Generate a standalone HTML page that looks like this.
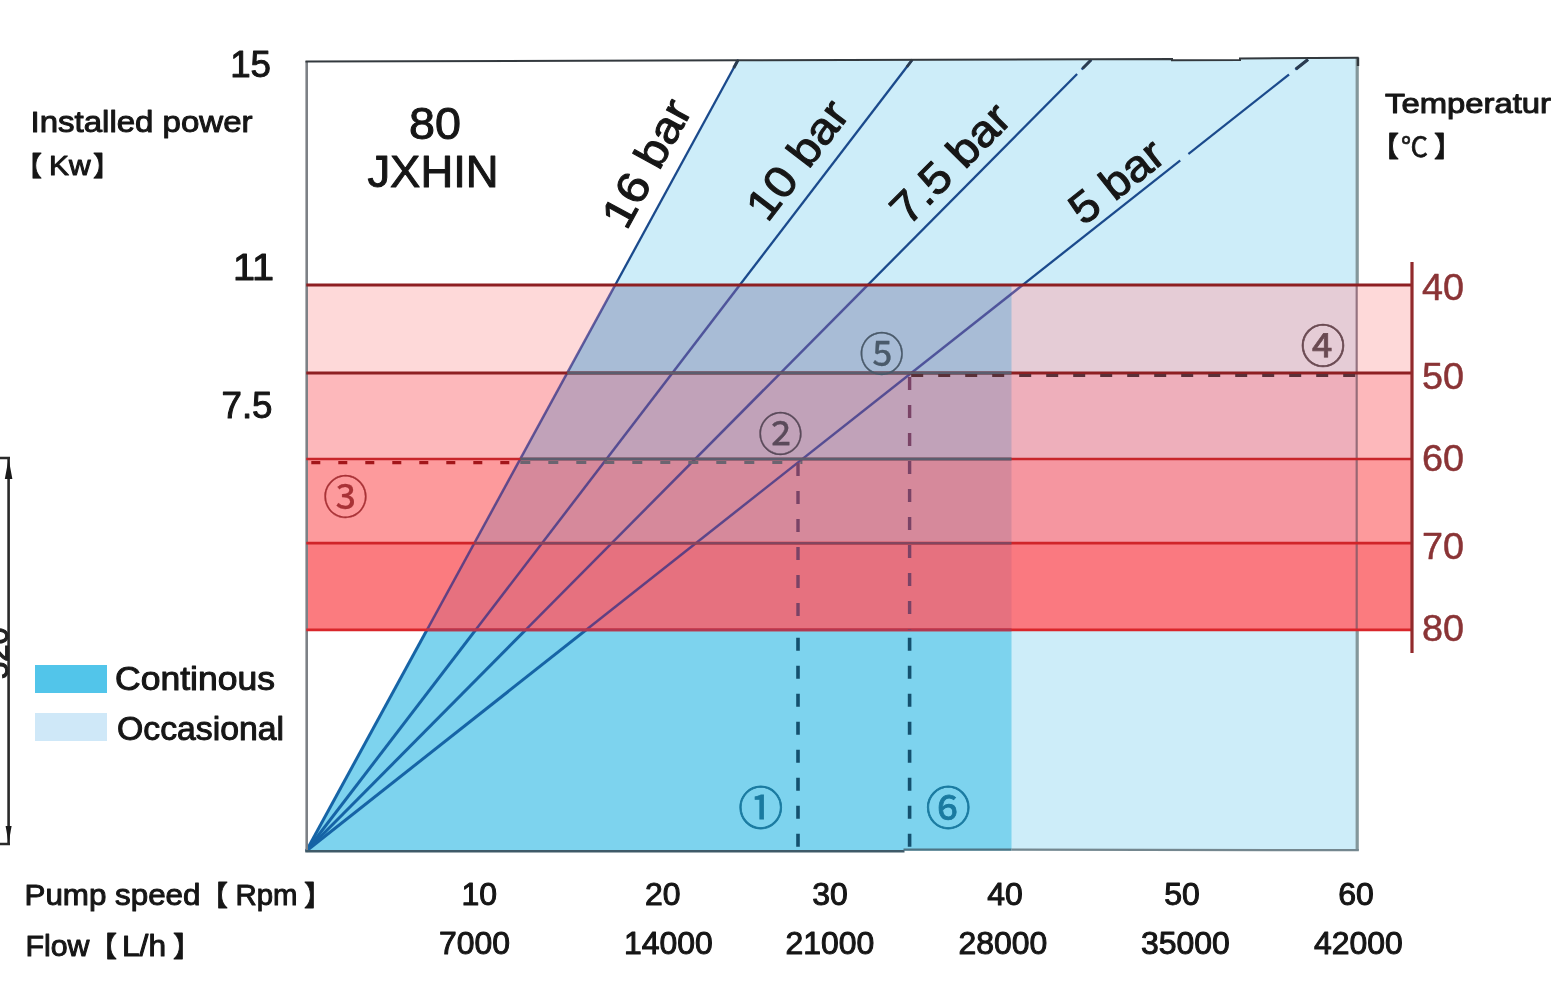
<!DOCTYPE html>
<html lang="en"><head><meta charset="utf-8"><title>Pump performance chart</title>
<style>html,body{margin:0;padding:0;background:#fff;overflow:hidden}svg{display:block;filter:blur(0.45px)}</style></head>
<body>
<svg width="1554" height="1000" viewBox="0 0 1554 1000">
<rect width="1554" height="1000" fill="#ffffff"/>
<polygon points="306.3,851.0 738.3,60.4 1172,59.2 1172,60.2 1240,60 1240,58.3 1358.0,57.8 1358.0,851.0" fill="#cdedf9"/>
<polygon points="306.3,851.0 615.2,285.0 1011.5,285.0 1011.5,851.0" fill="#7dd3ee"/>
<rect x="306.3" y="285.0" width="1105.7" height="88.0" fill="rgb(254,217,217)"/>
<rect x="1010.5" y="285.0" width="346.5" height="88.0" fill="rgb(229,204,214)"/>
<polygon points="615.2,285.0 1011.5,285.0 1011.5,373.0 567.2,373.0" fill="rgb(168,188,214)"/>
<rect x="306.3" y="373.0" width="1105.7" height="86.0" fill="rgb(253,184,187)"/>
<rect x="1010.5" y="373.0" width="346.5" height="86.0" fill="rgb(238,175,187)"/>
<polygon points="567.2,373.0 1011.5,373.0 1011.5,459.0 520.3,459.0" fill="rgb(193,162,185)"/>
<rect x="306.3" y="459.0" width="1105.7" height="84.2" fill="rgb(253,154,156)"/>
<rect x="1010.5" y="459.0" width="346.5" height="84.2" fill="rgb(245,150,160)"/>
<polygon points="520.3,459.0 1011.5,459.0 1011.5,543.2 474.3,543.2" fill="rgb(214,137,155)"/>
<rect x="306.3" y="543.2" width="1105.7" height="86.6" fill="rgb(251,123,127)"/>
<rect x="1010.5" y="543.2" width="346.5" height="86.6" fill="rgb(250,121,128)"/>
<polygon points="474.3,543.2 1011.5,543.2 1011.5,629.8 427.0,629.8" fill="rgb(230,113,127)"/>
<clipPath id="cb"><rect x="306.3" y="285.0" width="1050.7" height="344.8"/></clipPath>
<clipPath id="ca"><path d="M0,0H1554V285.0H0Z M0,629.8H1554V1000H0Z"/></clipPath>
<clipPath id="cu"><rect x="0" y="0" width="1554" height="285.0"/></clipPath>
<clipPath id="cl"><rect x="0" y="629.8" width="1554" height="370.20000000000005"/></clipPath>
<g clip-path="url(#cu)">
<line x1="306.3" y1="851.0" x2="738.3" y2="59.5" stroke="#1b4a8c" stroke-width="2.3"/>
<line x1="306.3" y1="851.0" x2="912.5" y2="59.5" stroke="#1b4a8c" stroke-width="2.3"/>
<line x1="306.3" y1="851.0" x2="1091.5" y2="59.5" stroke="#1b4a8c" stroke-width="2.3"/>
<line x1="306.3" y1="851.0" x2="1308.0" y2="59.5" stroke="#1b4a8c" stroke-width="2.3"/>
</g><g clip-path="url(#cl)">
<line x1="306.3" y1="851.0" x2="738.3" y2="59.5" stroke="#1664a6" stroke-width="3"/>
<line x1="306.3" y1="851.0" x2="912.5" y2="59.5" stroke="#1664a6" stroke-width="3"/>
<line x1="306.3" y1="851.0" x2="1091.5" y2="59.5" stroke="#1664a6" stroke-width="3"/>
<line x1="306.3" y1="851.0" x2="1308.0" y2="59.5" stroke="#1664a6" stroke-width="3"/>
</g><g clip-path="url(#cb)">
<line x1="306.3" y1="851.0" x2="738.3" y2="59.5" stroke="rgba(44,44,132,0.72)" stroke-width="2.5"/>
<line x1="306.3" y1="851.0" x2="912.5" y2="59.5" stroke="rgba(44,44,132,0.72)" stroke-width="2.5"/>
<line x1="306.3" y1="851.0" x2="1091.5" y2="59.5" stroke="rgba(44,44,132,0.72)" stroke-width="2.5"/>
<line x1="306.3" y1="851.0" x2="1308.0" y2="59.5" stroke="rgba(44,44,132,0.72)" stroke-width="2.5"/>
</g>
<line x1="1180.2" y1="160.5" x2="1188.4" y2="154.0" stroke="#cdedf9" stroke-width="4.5"/>
<line x1="1289.0" y1="74.5" x2="1295.3" y2="69.5" stroke="#cdedf9" stroke-width="4.5"/>
<line x1="1296.0" y1="69.0" x2="1308.0" y2="59.5" stroke="#2b3c50" stroke-width="3.2"/>
<line x1="1077.1" y1="74.0" x2="1081.6" y2="69.5" stroke="#cdedf9" stroke-width="4.5"/>
<line x1="1082.6" y1="68.5" x2="1091.0" y2="60.0" stroke="#2b3c50" stroke-width="3.0"/>
<line x1="906.8" y1="67.0" x2="912.1" y2="60.0" stroke="#2b3c50" stroke-width="2.8"/>
<line x1="733.7" y1="68.0" x2="737.8" y2="60.5" stroke="#2b3c50" stroke-width="3.0"/>
<line x1="306.7" y1="61" x2="306.7" y2="852.0" stroke="#7d8186" stroke-width="2.6"/>
<line x1="1357.2" y1="58" x2="1357.2" y2="285.0" stroke="#84979b" stroke-width="3.2"/>
<line x1="1357.2" y1="629.8" x2="1357.2" y2="851.5" stroke="#84979b" stroke-width="3.2"/>
<line x1="1356.7" y1="285.0" x2="1356.7" y2="629.8" stroke="rgba(120,85,100,0.75)" stroke-width="2.2"/>
<polyline points="305.5,61.5 738.3,60.3 1172,59.1 1172,60.3 1240,60.1 1240,58.4 1358.6,57.8" fill="none" stroke="#33393e" stroke-width="2"/>
<line x1="1358.0" y1="57.5" x2="1358.0" y2="66" stroke="#33393e" stroke-width="2.4"/>
<rect x="904" y="850.4" width="456.0" height="3" fill="#ffffff"/>
<line x1="305.3" y1="851.3" x2="904.5" y2="851.3" stroke="#3f5a68" stroke-width="2.6"/>
<line x1="903.5" y1="849.6" x2="1011.5" y2="849.6" stroke="#4d7484" stroke-width="2.2"/>
<line x1="1011.5" y1="849.6" x2="1358.8" y2="850.2" stroke="#74878f" stroke-width="2.2"/>
<line x1="306.3" y1="285.0" x2="1412.0" y2="285.0" stroke="#8e1f22" stroke-width="3"/>
<line x1="306.3" y1="373.0" x2="1412.0" y2="373.0" stroke="#8e1f22" stroke-width="3"/>
<line x1="306.3" y1="459.0" x2="1412.0" y2="459.0" stroke="#c8252a" stroke-width="2.6"/>
<line x1="306.3" y1="543.2" x2="1412.0" y2="543.2" stroke="#d02429" stroke-width="2.8"/>
<line x1="306.3" y1="629.8" x2="1412.0" y2="629.8" stroke="#d9262b" stroke-width="2.8"/>
<line x1="567.2" y1="373.0" x2="1011.5" y2="373.0" stroke="#5b5d6e" stroke-width="3.2"/>
<line x1="520.3" y1="459.0" x2="1011.5" y2="459.0" stroke="#5b5d6e" stroke-width="3.2"/>
<line x1="474.3" y1="543.2" x2="1011.5" y2="543.2" stroke="#82465f" stroke-width="2.6"/>
<line x1="427.0" y1="629.8" x2="1011.5" y2="629.8" stroke="#b23852" stroke-width="2.8"/>
<line x1="1412.0" y1="262" x2="1412.0" y2="653" stroke="#922a2c" stroke-width="3.2"/>
<line x1="306.3" y1="462.6" x2="520.3" y2="462.6" stroke="#a3161a" stroke-width="3.4" stroke-dasharray="9 18" stroke-dashoffset="-5"/>
<line x1="520.3" y1="462.4" x2="802.4" y2="462.4" stroke="#6b6470" stroke-width="3" stroke-dasharray="10 18"/>
<line x1="911.2" y1="375.6" x2="1357.0" y2="375.6" stroke="#5a3038" stroke-width="3" stroke-dasharray="12 15"/>
<line x1="798.0" y1="463.0" x2="798.0" y2="629.8" stroke="#7a4366" stroke-width="3.4" stroke-dasharray="13 15"/>
<line x1="798.0" y1="637.8" x2="798.0" y2="851.0" stroke="#14506e" stroke-width="3.6" stroke-dasharray="13 15"/>
<line x1="909.6" y1="377.0" x2="909.6" y2="629.8" stroke="#7a4366" stroke-width="3.4" stroke-dasharray="13 15"/>
<line x1="909.6" y1="637.8" x2="909.6" y2="851.0" stroke="#14506e" stroke-width="3.6" stroke-dasharray="13 15"/>
<path d="M0,458 H10 M8.6,458 V844 M0,844 H10" stroke="#2a2a2a" stroke-width="2.6" fill="none"/>
<polygon points="8.6,459 4.8,479 12.4,479" fill="#1a1a1a"/>
<polygon points="8.6,843 5.6,826 11.6,826" fill="#1a1a1a"/>
<rect x="35" y="665" width="72" height="28" fill="#52c5ea"/>
<rect x="35" y="713" width="72" height="28" fill="#cfe8f8"/>
<text x="271" y="77" font-size="36" font-family="'Liberation Sans','Noto Sans CJK SC',sans-serif" fill="#161616" text-anchor="end" textLength="40.8" lengthAdjust="spacingAndGlyphs" stroke="#161616" stroke-width="1.0" stroke-linejoin="round" >15</text>
<text x="274" y="279.5" font-size="36" font-family="'Liberation Sans','Noto Sans CJK SC',sans-serif" fill="#161616" text-anchor="end" textLength="41.1" lengthAdjust="spacingAndGlyphs" stroke="#161616" stroke-width="1.0" stroke-linejoin="round" >11</text>
<text x="272.5" y="417.5" font-size="36" font-family="'Liberation Sans','Noto Sans CJK SC',sans-serif" fill="#161616" text-anchor="end" textLength="51.0" lengthAdjust="spacingAndGlyphs" stroke="#161616" stroke-width="1.0" stroke-linejoin="round" >7.5</text>
<text x="30.5" y="131.6" font-size="30" font-family="'Liberation Sans','Noto Sans CJK SC',sans-serif" fill="#161616" text-anchor="start" textLength="222" lengthAdjust="spacingAndGlyphs" stroke="#161616" stroke-width="1.0" stroke-linejoin="round" >Installed power</text>
<text x="49" y="175" font-size="28.5" font-family="'Liberation Sans','Noto Sans CJK SC',sans-serif" fill="#161616" text-anchor="start" textLength="41.6" lengthAdjust="spacingAndGlyphs" stroke="#161616" stroke-width="1.0" stroke-linejoin="round" >Kw</text>
<text x="15" y="176" font-size="27" font-family="'Liberation Sans','Noto Sans CJK SC',sans-serif" fill="#161616" text-anchor="start" stroke="#161616" stroke-width="0.9" stroke-linejoin="round" >【</text>
<text x="93" y="176" font-size="27" font-family="'Liberation Sans','Noto Sans CJK SC',sans-serif" fill="#161616" text-anchor="start" stroke="#161616" stroke-width="0.9" stroke-linejoin="round" >】</text>
<text x="435" y="139" font-size="44" font-family="'Liberation Sans','Noto Sans CJK SC',sans-serif" fill="#161616" text-anchor="middle" textLength="51.9" lengthAdjust="spacingAndGlyphs" stroke="#161616" stroke-width="1.0" stroke-linejoin="round" >80</text>
<text x="433" y="187.3" font-size="44.5" font-family="'Liberation Sans','Noto Sans CJK SC',sans-serif" fill="#161616" text-anchor="middle" textLength="131.1" lengthAdjust="spacingAndGlyphs" stroke="#161616" stroke-width="1.0" stroke-linejoin="round" >JXHIN</text>
<text x="1385" y="113" font-size="28" font-family="'Liberation Sans','Noto Sans CJK SC',sans-serif" fill="#161616" text-anchor="start" textLength="166" lengthAdjust="spacingAndGlyphs" stroke="#161616" stroke-width="1.0" stroke-linejoin="round" >Temperatur</text>
<text x="1401" y="157" font-size="27" font-family="'Liberation Sans','Noto Sans CJK SC',sans-serif" fill="#161616" text-anchor="start" stroke="#161616" stroke-width="0.7" stroke-linejoin="round" >℃</text>
<text x="1371" y="157" font-size="28" font-family="'Liberation Sans','Noto Sans CJK SC',sans-serif" fill="#161616" text-anchor="start" stroke="#161616" stroke-width="0.9" stroke-linejoin="round" >【</text>
<text x="1434" y="157" font-size="28" font-family="'Liberation Sans','Noto Sans CJK SC',sans-serif" fill="#161616" text-anchor="start" stroke="#161616" stroke-width="0.9" stroke-linejoin="round" >】</text>
<text x="1422" y="300" font-size="36" font-family="'Liberation Sans','Noto Sans CJK SC',sans-serif" fill="#8a3436" text-anchor="start" textLength="42.0" lengthAdjust="spacingAndGlyphs" stroke="#8a3436" stroke-width="0.5" stroke-linejoin="round" >40</text>
<text x="1422" y="389" font-size="36" font-family="'Liberation Sans','Noto Sans CJK SC',sans-serif" fill="#8a3436" text-anchor="start" textLength="42.0" lengthAdjust="spacingAndGlyphs" stroke="#8a3436" stroke-width="0.5" stroke-linejoin="round" >50</text>
<text x="1422" y="470.7" font-size="36" font-family="'Liberation Sans','Noto Sans CJK SC',sans-serif" fill="#8a3436" text-anchor="start" textLength="42.0" lengthAdjust="spacingAndGlyphs" stroke="#8a3436" stroke-width="0.5" stroke-linejoin="round" >60</text>
<text x="1422" y="559" font-size="36" font-family="'Liberation Sans','Noto Sans CJK SC',sans-serif" fill="#8a3436" text-anchor="start" textLength="42.0" lengthAdjust="spacingAndGlyphs" stroke="#8a3436" stroke-width="0.5" stroke-linejoin="round" >70</text>
<text x="1422" y="641" font-size="36" font-family="'Liberation Sans','Noto Sans CJK SC',sans-serif" fill="#8a3436" text-anchor="start" textLength="42.0" lengthAdjust="spacingAndGlyphs" stroke="#8a3436" stroke-width="0.5" stroke-linejoin="round" >80</text>
<text x="115" y="689.6" font-size="32.5" font-family="'Liberation Sans','Noto Sans CJK SC',sans-serif" fill="#161616" text-anchor="start" textLength="160" lengthAdjust="spacingAndGlyphs" stroke="#161616" stroke-width="1.0" stroke-linejoin="round" >Continous</text>
<text x="117" y="740" font-size="32.5" font-family="'Liberation Sans','Noto Sans CJK SC',sans-serif" fill="#161616" text-anchor="start" textLength="167" lengthAdjust="spacingAndGlyphs" stroke="#161616" stroke-width="1.0" stroke-linejoin="round" >Occasional</text>
<text x="24.5" y="904.6" font-size="30" font-family="'Liberation Sans','Noto Sans CJK SC',sans-serif" fill="#161616" text-anchor="start" textLength="176" lengthAdjust="spacingAndGlyphs" stroke="#161616" stroke-width="1.0" stroke-linejoin="round" >Pump speed</text>
<text x="235.5" y="904.6" font-size="30" font-family="'Liberation Sans','Noto Sans CJK SC',sans-serif" fill="#161616" text-anchor="start" textLength="62" lengthAdjust="spacingAndGlyphs" stroke="#161616" stroke-width="1.0" stroke-linejoin="round" >Rpm</text>
<text x="200" y="905.5" font-size="28" font-family="'Liberation Sans','Noto Sans CJK SC',sans-serif" fill="#161616" text-anchor="start" stroke="#161616" stroke-width="0.9" stroke-linejoin="round" >【</text>
<text x="304" y="905.5" font-size="28" font-family="'Liberation Sans','Noto Sans CJK SC',sans-serif" fill="#161616" text-anchor="start" stroke="#161616" stroke-width="0.9" stroke-linejoin="round" >】</text>
<text x="25.5" y="956" font-size="30" font-family="'Liberation Sans','Noto Sans CJK SC',sans-serif" fill="#161616" text-anchor="start" textLength="64" lengthAdjust="spacingAndGlyphs" stroke="#161616" stroke-width="1.0" stroke-linejoin="round" >Flow</text>
<text x="122" y="956" font-size="30" font-family="'Liberation Sans','Noto Sans CJK SC',sans-serif" fill="#161616" text-anchor="start" textLength="44" lengthAdjust="spacingAndGlyphs" stroke="#161616" stroke-width="1.0" stroke-linejoin="round" >L/h</text>
<text x="89" y="957" font-size="28" font-family="'Liberation Sans','Noto Sans CJK SC',sans-serif" fill="#161616" text-anchor="start" stroke="#161616" stroke-width="0.9" stroke-linejoin="round" >【</text>
<text x="173" y="957" font-size="28" font-family="'Liberation Sans','Noto Sans CJK SC',sans-serif" fill="#161616" text-anchor="start" stroke="#161616" stroke-width="0.9" stroke-linejoin="round" >】</text>
<text x="479.3" y="905.3" font-size="30.5" font-family="'Liberation Sans','Noto Sans CJK SC',sans-serif" fill="#161616" text-anchor="middle" textLength="35.6" lengthAdjust="spacingAndGlyphs" stroke="#161616" stroke-width="1.0" stroke-linejoin="round" >10</text>
<text x="662.7" y="905.3" font-size="30.5" font-family="'Liberation Sans','Noto Sans CJK SC',sans-serif" fill="#161616" text-anchor="middle" textLength="35.6" lengthAdjust="spacingAndGlyphs" stroke="#161616" stroke-width="1.0" stroke-linejoin="round" >20</text>
<text x="830" y="905.3" font-size="30.5" font-family="'Liberation Sans','Noto Sans CJK SC',sans-serif" fill="#161616" text-anchor="middle" textLength="35.6" lengthAdjust="spacingAndGlyphs" stroke="#161616" stroke-width="1.0" stroke-linejoin="round" >30</text>
<text x="1005" y="905.3" font-size="30.5" font-family="'Liberation Sans','Noto Sans CJK SC',sans-serif" fill="#161616" text-anchor="middle" textLength="35.6" lengthAdjust="spacingAndGlyphs" stroke="#161616" stroke-width="1.0" stroke-linejoin="round" >40</text>
<text x="1182" y="905.3" font-size="30.5" font-family="'Liberation Sans','Noto Sans CJK SC',sans-serif" fill="#161616" text-anchor="middle" textLength="35.6" lengthAdjust="spacingAndGlyphs" stroke="#161616" stroke-width="1.0" stroke-linejoin="round" >50</text>
<text x="1356" y="905.3" font-size="30.5" font-family="'Liberation Sans','Noto Sans CJK SC',sans-serif" fill="#161616" text-anchor="middle" textLength="35.6" lengthAdjust="spacingAndGlyphs" stroke="#161616" stroke-width="1.0" stroke-linejoin="round" >60</text>
<text x="474.5" y="954.2" font-size="31" font-family="'Liberation Sans','Noto Sans CJK SC',sans-serif" fill="#161616" text-anchor="middle" textLength="71.0" lengthAdjust="spacingAndGlyphs" stroke="#161616" stroke-width="1.0" stroke-linejoin="round" >7000</text>
<text x="668.3" y="954.2" font-size="31" font-family="'Liberation Sans','Noto Sans CJK SC',sans-serif" fill="#161616" text-anchor="middle" textLength="88.8" lengthAdjust="spacingAndGlyphs" stroke="#161616" stroke-width="1.0" stroke-linejoin="round" >14000</text>
<text x="830" y="954.2" font-size="31" font-family="'Liberation Sans','Noto Sans CJK SC',sans-serif" fill="#161616" text-anchor="middle" textLength="88.8" lengthAdjust="spacingAndGlyphs" stroke="#161616" stroke-width="1.0" stroke-linejoin="round" >21000</text>
<text x="1003" y="954.2" font-size="31" font-family="'Liberation Sans','Noto Sans CJK SC',sans-serif" fill="#161616" text-anchor="middle" textLength="88.8" lengthAdjust="spacingAndGlyphs" stroke="#161616" stroke-width="1.0" stroke-linejoin="round" >28000</text>
<text x="1185.5" y="954.2" font-size="31" font-family="'Liberation Sans','Noto Sans CJK SC',sans-serif" fill="#161616" text-anchor="middle" textLength="88.8" lengthAdjust="spacingAndGlyphs" stroke="#161616" stroke-width="1.0" stroke-linejoin="round" >35000</text>
<text x="1358.5" y="954.2" font-size="31" font-family="'Liberation Sans','Noto Sans CJK SC',sans-serif" fill="#161616" text-anchor="middle" textLength="88.8" lengthAdjust="spacingAndGlyphs" stroke="#161616" stroke-width="1.0" stroke-linejoin="round" >42000</text>
<text x="626.6" y="231.2" font-size="44" font-family="'Liberation Sans','Noto Sans CJK SC',sans-serif" fill="#161616" text-anchor="start" textLength="138.5" lengthAdjust="spacingAndGlyphs" stroke="#161616" stroke-width="1.0" stroke-linejoin="round" transform="rotate(-61.37 626.6 231.2)">16 bar</text>
<text x="767.6" y="223.4" font-size="44" font-family="'Liberation Sans','Noto Sans CJK SC',sans-serif" fill="#161616" text-anchor="start" textLength="137.2" lengthAdjust="spacingAndGlyphs" stroke="#161616" stroke-width="1.0" stroke-linejoin="round" transform="rotate(-52.55 767.6 223.4)">10 bar</text>
<text x="908.3" y="227.0" font-size="44" font-family="'Liberation Sans','Noto Sans CJK SC',sans-serif" fill="#161616" text-anchor="start" textLength="149.3" lengthAdjust="spacingAndGlyphs" stroke="#161616" stroke-width="1.0" stroke-linejoin="round" transform="rotate(-45.23 908.3 227.0)">7.5 bar</text>
<text x="1083.6" y="226.4" font-size="44" font-family="'Liberation Sans','Noto Sans CJK SC',sans-serif" fill="#161616" text-anchor="start" textLength="107.3" lengthAdjust="spacingAndGlyphs" stroke="#161616" stroke-width="1.0" stroke-linejoin="round" transform="rotate(-38.31 1083.6 226.4)">5 bar</text>
<text x="760.8" y="805.5999999999999" font-size="45" font-family="'Noto Sans CJK SC','Liberation Sans',sans-serif" fill="#1a7aa0" text-anchor="middle" dominant-baseline="central" stroke="#1a7aa0" stroke-width="0.8">①</text>
<text x="948.3" y="805.5999999999999" font-size="45" font-family="'Noto Sans CJK SC','Liberation Sans',sans-serif" fill="#1a7aa0" text-anchor="middle" dominant-baseline="central" stroke="#1a7aa0" stroke-width="0.8">⑥</text>
<text x="780.6" y="431.2" font-size="45" font-family="'Noto Sans CJK SC','Liberation Sans',sans-serif" fill="#5a4a5a" text-anchor="middle" dominant-baseline="central" stroke="#5a4a5a" stroke-width="0.3">②</text>
<text x="881.8" y="351.2" font-size="45" font-family="'Noto Sans CJK SC','Liberation Sans',sans-serif" fill="#4a5a6a" text-anchor="middle" dominant-baseline="central" stroke="#4a5a6a" stroke-width="0.3">⑤</text>
<text x="345.6" y="494.40000000000003" font-size="45" font-family="'Noto Sans CJK SC','Liberation Sans',sans-serif" fill="#a83236" text-anchor="middle" dominant-baseline="central" stroke="#a83236" stroke-width="0.3">③</text>
<text x="1323" y="343.40000000000003" font-size="45" font-family="'Noto Sans CJK SC','Liberation Sans',sans-serif" fill="#6a4a52" text-anchor="middle" dominant-baseline="central" stroke="#6a4a52" stroke-width="0.7">④</text>
<text x="7.5" y="679" font-size="31" font-family="'Liberation Sans','Noto Sans CJK SC',sans-serif" fill="#222" stroke="#222" stroke-width="1.1" transform="rotate(-90 7.5 679)">520</text>
</svg>
</body></html>
